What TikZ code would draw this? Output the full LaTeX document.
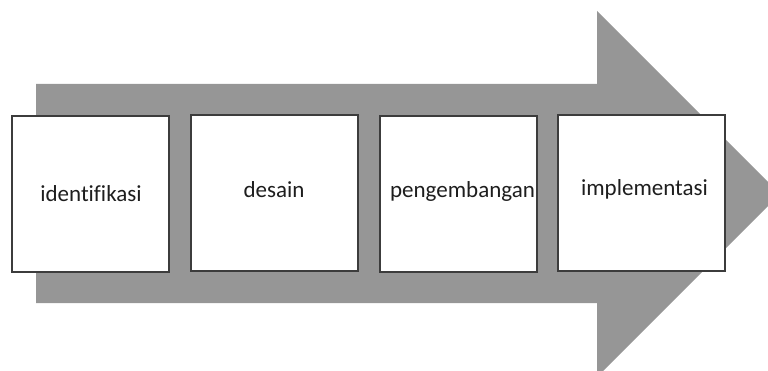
\documentclass[tikz,border=0pt]{standalone}
\usepackage{fontspec}
\setmainfont[Ligatures=NoCommon]{Carlito}
\definecolor{arrowgray}{HTML}{969696}
\definecolor{boxline}{HTML}{3C3C3C}
\definecolor{txt}{HTML}{1E1E1E}
\begin{document}
\begin{tikzpicture}[x=1pt,y=-1pt,
  stepbox/.style={draw=boxline,line width=1.4pt,fill=white},
  steptext/.style={anchor=base,inner sep=0pt,text=txt,font=\fontsize{23}{27}\selectfont}]
\useasboundingbox (0,0) rectangle (768,371);
\begin{scope}
\clip (0,0) rectangle (768,371);
\fill[arrowgray] (36,84) -- (597,84) -- (597,11) -- (780,194) -- (597,377) -- (597,303) -- (36,303) -- cycle;
\end{scope}
\draw[stepbox] (12,116) rectangle (169,272) coordinate (b1);
\draw[stepbox] (191,115) rectangle (358,271) coordinate (b2);
\draw[stepbox] (380,116) rectangle (537,272) coordinate (b3);
\draw[stepbox] (558,115) rectangle (725,271) coordinate (b4);
\node[steptext] (t1) at (91,202) {identifikasi};
\node[steptext] (t2) at (274,198) {desain};
\node[steptext] (t3) at (462.5,198) {pengembangan};
\node[steptext] (t4) at (644.5,196) {implementasi};
\end{tikzpicture}
\end{document}
